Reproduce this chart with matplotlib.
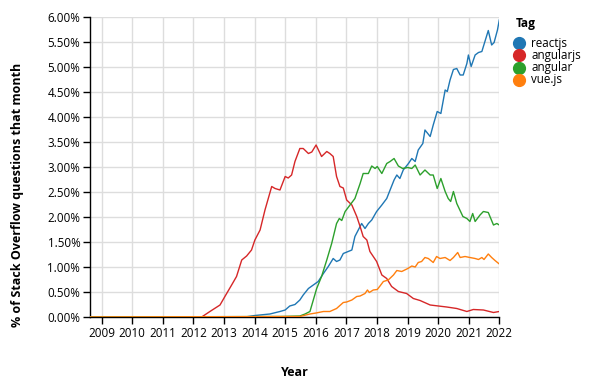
import matplotlib
matplotlib.use("Agg")
import matplotlib.pyplot as plt
from matplotlib.lines import Line2D
from matplotlib.ticker import FuncFormatter, MultipleLocator

plt.rcParams['font.family'] = ['Open Sans', 'DejaVu Sans']

tags = ["reactjs", "angularjs", "angular", "vue.js"]
colors = ["#1f77b4", "#d62728", "#2ca02c", "#ff7f0e"]

react_x = [2008.62, 2013.69, 2014.01, 2014.50, 2014.83, 2015.0, 2015.15, 2015.32, 2015.48, 2015.59,
           2015.76, 2015.92, 2016.08, 2016.25, 2016.41, 2016.57, 2016.68, 2016.79, 2016.90, 2017.06,
           2017.18, 2017.28, 2017.39, 2017.50, 2017.61, 2017.72, 2017.83, 2017.99, 2018.16, 2018.32,
           2018.43, 2018.56, 2018.65, 2018.75, 2018.86, 2019.03, 2019.14, 2019.25, 2019.35, 2019.50,
           2019.57, 2019.74, 2019.84, 2019.97, 2020.09, 2020.23, 2020.30, 2020.39, 2020.50, 2020.61,
           2020.72, 2020.82, 2020.94, 2020.99, 2021.08, 2021.21, 2021.32, 2021.43, 2021.53, 2021.64,
           2021.75, 2021.83, 2021.94, 2022.0]
react_y = [0, 0, 0.03, 0.06, 0.11, 0.14, 0.22, 0.25, 0.34, 0.44,
           0.57, 0.64, 0.71, 0.87, 1.01, 1.17, 1.11, 1.14, 1.27, 1.31,
           1.34, 1.61, 1.74, 1.87, 1.77, 1.87, 1.94, 2.11, 2.24, 2.37,
           2.54, 2.74, 2.84, 2.77, 2.94, 3.07, 3.17, 3.11, 3.34, 3.47,
           3.74, 3.61, 3.84, 4.11, 4.07, 4.54, 4.51, 4.74, 4.95, 4.97,
           4.84, 4.84, 5.07, 5.24, 5.01, 5.24, 5.29, 5.31, 5.51, 5.73,
           5.44, 5.49, 5.74, 5.94]

angularjs_x = [2008.62, 2012.27, 2012.54, 2012.87, 2013.03, 2013.25, 2013.41, 2013.58, 2013.74, 2013.90,
               2014.01, 2014.18, 2014.34, 2014.56, 2014.67, 2014.83, 2015.0, 2015.10, 2015.21, 2015.32,
               2015.48, 2015.59, 2015.76, 2015.87, 2016.01, 2016.19, 2016.36, 2016.46, 2016.57, 2016.68,
               2016.79, 2016.90, 2017.01, 2017.18, 2017.34, 2017.45, 2017.55, 2017.67, 2017.77, 2017.99,
               2018.16, 2018.32, 2018.48, 2018.70, 2018.97, 2019.19, 2019.41, 2019.74, 2020.01, 2020.28,
               2020.61, 2020.94, 2021.15, 2021.48, 2021.81, 2022.0]
angularjs_y = [0, 0, 0.11, 0.24, 0.41, 0.64, 0.81, 1.14, 1.22, 1.34,
               1.54, 1.74, 2.14, 2.61, 2.57, 2.54, 2.81, 2.78, 2.84, 3.11,
               3.37, 3.37, 3.27, 3.30, 3.44, 3.21, 3.31, 3.27, 3.21, 2.81,
               2.61, 2.58, 2.34, 2.24, 2.01, 1.81, 1.61, 1.54, 1.31, 1.11,
               0.84, 0.77, 0.61, 0.51, 0.47, 0.37, 0.33, 0.24, 0.22, 0.20,
               0.17, 0.11, 0.15, 0.14, 0.09, 0.11]

angular_x = [2008.62, 2014.83, 2015.48, 2015.65, 2015.81, 2015.92, 2016.03, 2016.19, 2016.36, 2016.52,
             2016.68, 2016.77, 2016.85, 2016.96, 2017.12, 2017.28, 2017.45, 2017.55, 2017.72, 2017.83,
             2017.94, 2018.01, 2018.16, 2018.32, 2018.43, 2018.56, 2018.70, 2018.84, 2019.01, 2019.14,
             2019.25, 2019.41, 2019.57, 2019.74, 2019.84, 2019.97, 2020.09, 2020.23, 2020.33, 2020.41,
             2020.50, 2020.61, 2020.81, 2020.94, 2021.04, 2021.13, 2021.21, 2021.37, 2021.48, 2021.64,
             2021.81, 2021.92, 2022.0]
angular_y = [0, 0.01, 0.02, 0.06, 0.11, 0.34, 0.57, 0.81, 1.14, 1.47,
             1.87, 1.97, 1.93, 2.11, 2.24, 2.37, 2.67, 2.87, 2.87, 3.02,
             2.97, 3.01, 2.87, 3.07, 3.11, 3.17, 3.02, 2.97, 2.99, 2.97,
             3.04, 2.84, 2.94, 2.84, 2.84, 2.57, 2.77, 2.51, 2.37, 2.31,
             2.51, 2.27, 2.01, 1.97, 1.91, 2.07, 1.91, 2.04, 2.11, 2.09,
             1.84, 1.87, 1.84]

vue_x = [2008.62, 2015.48, 2015.81, 2016.01, 2016.25, 2016.46, 2016.68, 2016.90, 2017.01, 2017.18,
         2017.34, 2017.45, 2017.61, 2017.69, 2017.75, 2017.88, 2018.01, 2018.10, 2018.21, 2018.37,
         2018.54, 2018.65, 2018.81, 2019.01, 2019.14, 2019.25, 2019.35, 2019.46, 2019.57, 2019.68,
         2019.84, 2019.95, 2020.06, 2020.23, 2020.39, 2020.50, 2020.64, 2020.72, 2020.88, 2021.04,
         2021.21, 2021.32, 2021.43, 2021.50, 2021.64, 2021.75, 2021.86, 2022.0]
vue_y = [0, 0.01, 0.06, 0.08, 0.11, 0.11, 0.17, 0.29, 0.30, 0.34,
         0.41, 0.42, 0.47, 0.54, 0.49, 0.54, 0.55, 0.62, 0.71, 0.74,
         0.84, 0.93, 0.91, 0.97, 1.02, 1.00, 1.09, 1.11, 1.19, 1.17,
         1.09, 1.21, 1.17, 1.19, 1.13, 1.19, 1.29, 1.19, 1.21, 1.19,
         1.17, 1.15, 1.19, 1.15, 1.26, 1.19, 1.13, 1.06]

year_ticks = list(range(2009, 2023))
y_max = 6.0

W, H = 592, 382
fig = plt.figure(figsize=(W / 100, H / 100), dpi=100)
L, R, T, B = 90, 499.3, 17, 317
ax = fig.add_axes([L / W, 1 - B / H, (R - L) / W, (B - T) / H])

series = [(react_x, react_y), (angularjs_x, angularjs_y), (angular_x, angular_y), (vue_x, vue_y)]
for (xs, ys), c in zip(series, colors):
    ax.plot(xs, ys, color=c, lw=1.0, solid_joinstyle='round', zorder=3)

ax.set_xlim(2008.62, 2022.0)
ax.set_ylim(0, y_max)
ax.set_xticks(year_ticks)
ax.set_xticklabels([str(y) for y in year_ticks])
ax.yaxis.set_major_locator(MultipleLocator(0.5))
ax.yaxis.set_major_formatter(FuncFormatter(lambda v, p: f"{v:.2f}%"))

ax.grid(True, color="#dddddd", lw=1, zorder=0)
ax.set_axisbelow(True)
for s in ["top", "right"]:
    ax.spines[s].set_visible(False)
for s in ["left", "bottom"]:
    ax.spines[s].set_color("black")
    ax.spines[s].set_linewidth(1)
ax.tick_params(axis='both', length=5, width=1, color='black', labelsize=8.4, pad=2)

ax.set_xlabel("Year", fontsize=9, fontweight='bold')
ax.xaxis.set_label_coords(0.5, -(372 - B) / (B - T))
ax.xaxis.label.set_va('center')
ax.set_ylabel("% of Stack Overflow questions that month", fontsize=9, fontweight='bold')
ax.yaxis.set_label_coords(-(L - 18) / (R - L), (B - 195) / (B - T))
ax.yaxis.label.set_va('center')

# legend
fig.text(516 / W, 1 - 23 / H, "Tag", fontsize=8.6, fontweight='bold', va='center', ha='left')
rows = [43, 55, 67.5, 80]
for t, c, ry in zip(tags, colors, rows):
    fig.add_artist(Line2D([519 / W], [1 - ry / H], marker='o', color='none',
                          markerfacecolor=c, markeredgecolor=c, markersize=8.5,
                          transform=fig.transFigure))
    fig.text(531 / W, 1 - ry / H, t, fontsize=8.4, va='center', ha='left')

fig.savefig("out.png", dpi=100)
